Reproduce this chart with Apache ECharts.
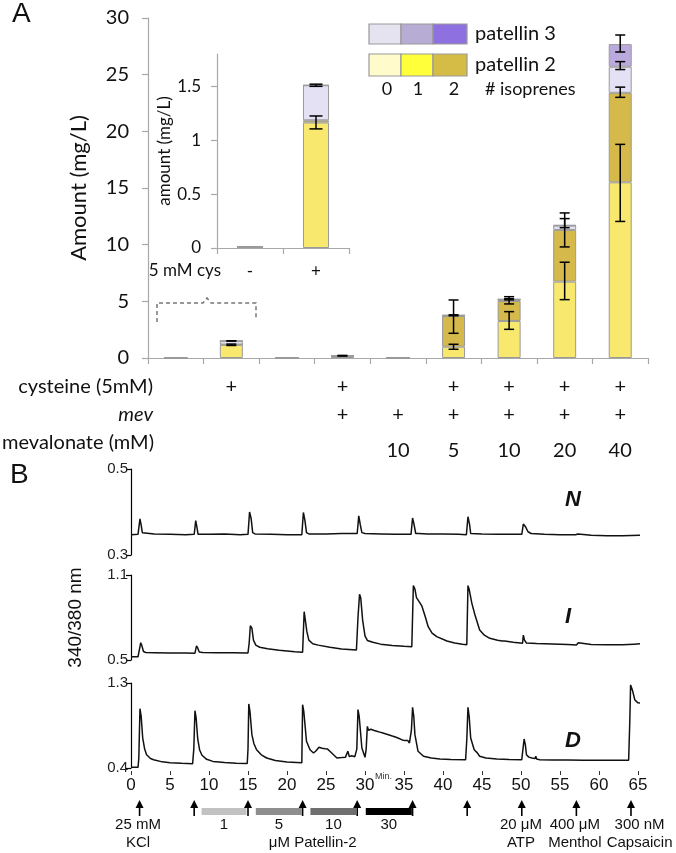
<!DOCTYPE html>
<html><head><meta charset="utf-8">
<script src="https://cdn.jsdelivr.net/npm/echarts@6.0.0/dist/echarts.min.js"></script>
<style>html,body{margin:0;padding:0;background:#fff}#c{width:676px;height:853px}</style>
</head><body><div id="c"></div>
<script>
// ---------- Panel A data ----------
const conditions = ['1','2','3','4','5','6','7','8','9'];
const cysteineRow = ['', '+', '', '+', '', '+', '+', '+', '+'];
const mevRow = ['', '', '', '+', '+', '+', '+', '+', '+'];
const mevalonateRow = ['', '', '', '', '10', '5', '10', '20', '40'];
const yTicksA = [0, 5, 10, 15, 20, 25, 30];
// stacked segments (mg/L)
const p2oneIso = [0.01, 1.165, 0.02, 0.10, 0.03, 1.00, 3.27, 6.74, 15.5];
const p2twoIso = [0, 0.02, 0, 0.05, 0, 2.70, 1.76, 4.56, 7.9];
const p3zeroIso = [0, 0.325, 0, 0.05, 0, 0.07, 0.15, 0.38, 2.3];
const p3oneIso = [0, 0, 0, 0, 0, 0, 0, 0.05, 2.0];
// error bars: [category index, mean, sd]
const errorBars = [
  [1, 1.51, 0.01], [1, 1.165, 0.06],
  [3, 0.2, 0.03],
  [5, 3.65, 1.47], [5, 0.99, 0.22], [5, 3.77, 0.04],
  [6, 5.09, 0.32], [6, 5.18, 0.05], [6, 3.31, 0.78],
  [7, 11.3, 1.5], [7, 11.9, 0.4], [7, 6.8, 1.65],
  [8, 27.75, 0.75], [8, 25.8, 0.35], [8, 23.45, 0.45], [8, 15.45, 3.4]
];
const insetCats = ['-', '+'];
const insetTicks = [0, 0.5, 1, 1.5];

// ---------- Panel B data: [minutes, 340/380 ratio] ----------
const traceN = [[0,0.347],[0.9,0.348],[1.0,0.35],[1.15,0.384],[1.3,0.37],[1.45,0.352],[1.7,0.35],[3,0.349],[5,0.348],[7,0.347],[8.1,0.348],[8.3,0.38],[8.45,0.365],[8.6,0.348],[8.8,0.346],[10,0.348],[12,0.349],[14,0.347],[15.0,0.348],[15.2,0.4],[15.4,0.385],[15.6,0.352],[15.9,0.349],[18,0.348],[20,0.347],[21.9,0.347],[22.1,0.399],[22.3,0.38],[22.5,0.352],[22.8,0.349],[25,0.349],[27,0.35],[29.0,0.35],[29.2,0.391],[29.4,0.37],[29.6,0.352],[30,0.35],[32,0.349],[34,0.348],[35.9,0.348],[36.1,0.386],[36.3,0.37],[36.5,0.35],[36.7,0.346],[36.9,0.35],[38,0.349],[40,0.349],[42,0.348],[43.0,0.347],[43.2,0.389],[43.4,0.372],[43.55,0.35],[43.7,0.346],[45,0.349],[47,0.348],[49,0.348],[50.1,0.348],[50.3,0.372],[50.6,0.365],[50.9,0.354],[51.3,0.35],[53,0.348],[55,0.347],[57,0.347],[57.3,0.349],[57.5,0.346],[59,0.346],[61,0.345],[63,0.345],[65.3,0.346]];
const traceI = [[0,0.523],[0.9,0.523],[1.0,0.53],[1.25,0.622],[1.4,0.6],[1.6,0.56],[1.9,0.553],[3,0.552],[5,0.55],[7,0.549],[8.2,0.548],[8.4,0.6],[8.55,0.585],[8.75,0.556],[9.2,0.553],[11,0.552],[13,0.551],[15.0,0.55],[15.15,0.62],[15.3,0.742],[15.5,0.725],[15.7,0.64],[16.0,0.605],[16.5,0.59],[17.5,0.58],[19,0.568],[21,0.558],[22.0,0.555],[22.2,0.841],[22.35,0.83],[22.55,0.7],[22.8,0.64],[23.3,0.615],[24,0.605],[25.5,0.59],[27,0.578],[28.9,0.57],[29.1,0.8],[29.3,0.964],[29.45,0.94],[29.7,0.78],[30.0,0.67],[30.3,0.638],[31,0.625],[32,0.612],[33.5,0.602],[35,0.597],[36.0,0.594],[36.2,1.025],[36.4,1.0],[36.6,0.94],[37,0.907],[37.3,0.88],[37.7,0.81],[38.1,0.735],[38.6,0.69],[39.2,0.665],[40.5,0.634],[41.5,0.62],[42.5,0.612],[43.05,0.608],[43.2,1.025],[43.35,1.0],[43.7,0.9],[44.1,0.818],[44.7,0.712],[45.3,0.675],[46,0.653],[47,0.64],[47.6,0.634],[47.75,0.64],[47.9,0.634],[49,0.625],[50.2,0.618],[50.3,0.676],[50.45,0.64],[50.7,0.62],[52,0.616],[54,0.613],[56,0.609],[57.1,0.606],[57.35,0.622],[57.6,0.612],[59,0.609],[61,0.607],[63,0.607],[64.5,0.612],[65.3,0.614]];
const traceD = [[0,0.407],[0.9,0.407],[1.0,0.5],[1.15,1.028],[1.3,0.95],[1.5,0.72],[1.75,0.6],[2.0,0.541],[2.5,0.5],[2.9,0.488],[4,0.465],[5,0.455],[6.5,0.449],[7.9,0.446],[8.05,0.6],[8.2,1.007],[8.35,0.93],[8.55,0.71],[8.8,0.59],[9.1,0.535],[9.7,0.492],[10.5,0.47],[12,0.457],[13.5,0.45],[14.9,0.447],[15.0,0.6],[15.1,1.078],[15.25,1.0],[15.5,0.753],[15.75,0.66],[16.1,0.594],[16.7,0.54],[17.4,0.506],[18.5,0.48],[20,0.464],[21.9,0.455],[22.0,1.07],[22.15,1.0],[22.5,0.683],[22.95,0.594],[23.4,0.559],[23.7,0.58],[24.1,0.619],[24.5,0.61],[24.7,0.616],[24.9,0.604],[25.2,0.6],[25.35,0.606],[25.5,0.577],[25.9,0.545],[26.4,0.506],[27.0,0.51],[27.5,0.515],[27.8,0.577],[28.0,0.52],[28.3,0.53],[28.7,0.52],[28.95,0.6],[29.1,1.018],[29.25,0.95],[29.6,0.612],[30.0,0.513],[30.15,0.6],[30.3,0.841],[30.45,0.8],[30.6,0.795],[30.75,0.81],[30.9,0.79],[31.1,0.8],[31.3,0.785],[31.5,0.79],[31.7,0.772],[31.9,0.78],[32.1,0.765],[32.3,0.77],[32.5,0.752],[32.7,0.76],[32.9,0.745],[33.1,0.75],[33.3,0.73],[33.5,0.738],[33.7,0.72],[33.9,0.728],[34.1,0.71],[34.3,0.715],[34.5,0.695],[34.7,0.7],[34.9,0.683],[35.1,0.69],[35.3,0.672],[35.5,0.69],[35.7,0.665],[35.95,0.8],[36.1,1.043],[36.25,0.95],[36.4,0.753],[36.8,0.577],[37.5,0.524],[38.5,0.505],[39.6,0.495],[41,0.49],[42.9,0.488],[43.05,0.7],[43.2,1.043],[43.35,0.95],[43.55,0.718],[44.0,0.594],[44.2,0.6],[44.4,0.56],[44.7,0.524],[45.5,0.505],[46.9,0.495],[48.5,0.49],[50.1,0.488],[50.25,0.6],[50.4,0.707],[50.55,0.65],[50.7,0.541],[51.0,0.515],[51.4,0.506],[51.8,0.5],[51.9,0.524],[52.0,0.495],[52.4,0.488],[54,0.485],[56,0.484],[58,0.483],[60,0.482],[62,0.482],[63.8,0.481],[63.95,0.9],[64.05,1.28],[64.3,1.22],[64.6,1.12],[65.0,1.09],[65.3,1.088]];
const arrowTimes = [1.1, 8.1, 15.0, 22.0, 29.0, 36.1, 43.1, 50.1, 57.1, 64.1];
const patellinDoses = ['1', '5', '10', '30'];
const patellinStart = [9.05, 16.0, 23.0, 30.1];
const patellinEnd = [14.8, 21.9, 28.9, 36.0];
const stimLabelTimes = [0.9, 50.0, 56.9, 65.2, 23.3];
const stimLabelTexts = ['25 mM\nKCl', '20 \u03bcM\nATP', '400 \u03bcM\nMenthol', '300 nM\nCapsaicin', '\n\u03bcM Patellin-2'];

// ---------- styles ----------
const FA = 'Lato, "Open Sans", sans-serif';
const FB = '"Liberation Sans", Arial, sans-serif';
const FBN = '"Liberation Sans Narrow", "Liberation Sans", Arial, sans-serif';
const segColors = ['#F8E96E', '#D5B94A', '#E5E1F4', '#BBAADE'];
const shades = ['#c2c2c2', '#8e8e8e', '#6f6f6f', '#000000'];
const axisGray = '#a8a8a8';

const chart = echarts.init(document.getElementById('c'), null, {renderer: 'canvas'});

function errRender(capW) {
  return function (params, api) {
    const c = api.value(0), m = api.value(1), e = api.value(2);
    const t = api.coord([c, m + e]), b = api.coord([c, m - e]);
    const st = {stroke: '#000', lineWidth: 1.5};
    return {type: 'group', children: [
      {type: 'line', shape: {x1: t[0], y1: t[1], x2: b[0], y2: b[1]}, style: st},
      {type: 'line', shape: {x1: t[0] - capW / 2, y1: t[1], x2: t[0] + capW / 2, y2: t[1]}, style: st},
      {type: 'line', shape: {x1: b[0] - capW / 2, y1: b[1], x2: b[0] + capW / 2, y2: b[1]}, style: st}
    ]};
  };
}

const segs = [p2oneIso, p2twoIso, p3zeroIso, p3oneIso];
const mainBars = segs.map((d, i) => ({
  type: 'bar', xAxisIndex: 0, yAxisIndex: 0, stack: 'main', barWidth: 23, data: d,
  itemStyle: {color: segColors[i], borderColor: '#9a9a9a', borderWidth: 1}, silent: true
}));
const insetBars = segs.map((d, i) => ({
  type: 'bar', xAxisIndex: 4, yAxisIndex: 1, stack: 'inset', barWidth: 26, data: d.slice(0, 2),
  itemStyle: {color: segColors[i], borderColor: '#9a9a9a', borderWidth: 1}, silent: true
}));

function rowAxis(data, offset, name, italic) {
  return {
    type: 'category', gridIndex: 0, data: data, position: 'bottom', offset: offset,
    axisLine: {show: false}, axisTick: {show: false}, splitLine: {show: false},
    axisLabel: {margin: 0, verticalAlign: 'middle', fontSize: 20, fontFamily: FA, color: '#111', interval: 0},
    name: name, nameLocation: 'start', nameGap: -5,
    nameTextStyle: {fontSize: 20, fontFamily: FA, color: '#111', fontStyle: italic ? 'italic' : 'normal',
      align: 'right', verticalAlign: 'middle'}
  };
}

function bYAxis(grid, min, max, name) {
  return {
    type: 'value', gridIndex: grid, min: min, max: max,
    axisLine: {show: true, lineStyle: {color: '#000', width: 1.2}},
    axisTick: {show: true, length: 5, customValues: [min, max], lineStyle: {color: '#000', width: 1.2}},
    axisLabel: {customValues: [min, max], fontSize: 15, fontFamily: FBN, color: '#222', margin: 3},
    splitLine: {show: false},
    name: name || '', nameLocation: 'middle', nameGap: 46,
    nameTextStyle: {fontSize: 19, fontFamily: FB, color: '#111'}
  };
}
function bXAxis(grid, show) {
  return {
    type: 'value', gridIndex: grid, min: 0, max: 65, interval: 5, show: show, offset: 3,
    axisLine: {show: false},
    axisTick: {show: true, length: 4, lineStyle: {color: '#333'}},
    axisLabel: {fontSize: 17, fontFamily: FB, color: '#111', margin: 6},
    splitLine: {show: false}
  };
}
const lineStyleB = {color: '#111', width: 1.5};

const option = {
  animation: false,
  backgroundColor: '#fff',
  grid: [
    {left: 148, top: 18, width: 500, height: 340},
    {left: 217, top: 54, width: 132, height: 194},
    {left: 131, top: 469, width: 507, height: 86},
    {left: 131, top: 575, width: 507, height: 85},
    {left: 131, top: 683, width: 507, height: 85}
  ],
  xAxis: [
    {type: 'category', gridIndex: 0, data: conditions,
      axisLine: {lineStyle: {color: axisGray, width: 1.2}},
      axisTick: {show: true, length: 6, lineStyle: {color: axisGray, width: 1.2}},
      axisLabel: {show: false}},
    rowAxis(cysteineRow, 29, 'cysteine (5mM)', false),
    rowAxis(mevRow, 57, 'mev', true),
    rowAxis(mevalonateRow, 93, '', false),
    {type: 'category', gridIndex: 1, data: insetCats,
      axisLine: {lineStyle: {color: axisGray, width: 1.2}},
      axisTick: {show: true, length: 6, lineStyle: {color: axisGray, width: 1.2}},
      axisLabel: {fontSize: 17, fontFamily: FA, color: '#111', margin: 15}},
    bXAxis(2, false), bXAxis(3, false), bXAxis(4, true)
  ],
  yAxis: [
    {type: 'value', gridIndex: 0, min: 0, max: 30, interval: 5,
      axisLine: {show: true, lineStyle: {color: axisGray, width: 1.2}},
      axisTick: {show: true, length: 6, lineStyle: {color: axisGray, width: 1.2}},
      axisLabel: {fontSize: 20, fontFamily: FA, color: '#111', margin: 19, customValues: yTicksA},
      splitLine: {show: false},
      name: 'Amount (mg/L)', nameLocation: 'middle', nameGap: 58,
      nameTextStyle: {fontSize: 22, fontFamily: FA, color: '#111'}},
    {type: 'value', gridIndex: 1, min: 0, max: 1.8,
      axisLine: {show: true, lineStyle: {color: axisGray, width: 1.2}},
      axisTick: {show: true, length: 6, customValues: insetTicks, lineStyle: {color: axisGray, width: 1.2}},
      axisLabel: {fontSize: 17, fontFamily: FA, color: '#111', margin: 16, customValues: insetTicks},
      splitLine: {show: false},
      name: 'amount (mg/L)', nameLocation: 'middle', nameGap: 41,
      nameTextStyle: {fontSize: 17, fontFamily: FA, color: '#111'}},
    bYAxis(2, 0.3, 0.5), bYAxis(3, 0.5, 1.1, '340/380 nm'), bYAxis(4, 0.4, 1.3)
  ],
  series: [
    ...mainBars,
    {type: 'custom', xAxisIndex: 0, yAxisIndex: 0, data: errorBars, renderItem: errRender(10), z: 5, silent: true},
    ...insetBars,
    {type: 'custom', xAxisIndex: 4, yAxisIndex: 1, data: errorBars.filter(e => e[0] < 2), renderItem: errRender(13), z: 5, silent: true},
    {type: 'line', xAxisIndex: 5, yAxisIndex: 2, data: traceN, showSymbol: false, lineStyle: lineStyleB, silent: true},
    {type: 'line', xAxisIndex: 6, yAxisIndex: 3, data: traceI, showSymbol: false, lineStyle: lineStyleB, silent: true},
    {type: 'line', xAxisIndex: 7, yAxisIndex: 4, data: traceD, showSymbol: false, lineStyle: lineStyleB, silent: true},
    // stimulus arrows
    {type: 'custom', xAxisIndex: 7, yAxisIndex: 4, data: arrowTimes.map(t => [t, 0.4]), clip: false, silent: true,
      renderItem: function (params, api) {
        const x = api.coord([api.value(0), 0.4])[0];
        const base = params.coordSys.y + params.coordSys.height;
        return {type: 'group', children: [
          {type: 'line', shape: {x1: x, y1: base + 37, x2: x, y2: base + 48}, style: {stroke: '#000', lineWidth: 1.6}},
          {type: 'polygon', shape: {points: [[x - 4, base + 40], [x, base + 32], [x + 4, base + 40]]}, style: {fill: '#000'}}
        ]};
      }},
    // patellin application bars
    {type: 'custom', xAxisIndex: 7, yAxisIndex: 4, data: patellinStart.map((s, i) => [s, patellinEnd[i]]), clip: false, silent: true,
      renderItem: function (params, api) {
        const x1 = api.coord([api.value(0), 0.4])[0];
        const x2 = api.coord([api.value(1), 0.4])[0];
        const base = params.coordSys.y + params.coordSys.height;
        return {type: 'group', children: [
          {type: 'rect', shape: {x: x1, y: base + 40, width: x2 - x1, height: 7}, style: {fill: shades[params.dataIndex]}},
          {type: 'text', style: {text: patellinDoses[params.dataIndex], x: (x1 + x2) / 2, y: base + 57, align: 'center', verticalAlign: 'middle',
            fontSize: 15, fontFamily: FB, fill: '#111'}}
        ]};
      }},
    // stimulus labels
    {type: 'custom', xAxisIndex: 7, yAxisIndex: 4, data: stimLabelTimes.map(t => [t, 0.4]), clip: false, silent: true,
      renderItem: function (params, api) {
        const x = api.coord([api.value(0), 0.4])[0];
        const base = params.coordSys.y + params.coordSys.height;
        return {type: 'text', style: {text: stimLabelTexts[params.dataIndex], x: x, y: base + 48, align: 'center', verticalAlign: 'top',
          fontSize: 15, lineHeight: 18, fontFamily: FB, fill: '#111'}};
      }}
  ],
  graphic: [
    {type: 'text', left: 12, top: 0, style: {text: 'A', fontSize: 28, fontFamily: FB, fill: '#111'}},
    {type: 'text', left: 10, top: 461, style: {text: 'B', fontSize: 28, fontFamily: FB, fill: '#111'}},
    {type: 'text', x: 154, y: 443, style: {text: 'mevalonate (mM)', align: 'right', verticalAlign: 'middle', fontSize: 20, fontFamily: FA, fill: '#111'}},
    // inset row label
    {type: 'text', x: 221, y: 271, style: {text: '5 mM cys', align: 'right', verticalAlign: 'middle', fontSize: 17, fontFamily: FA, fill: '#111'}},
    // dashed bracket linking inset to the first two bars
    {type: 'polyline', shape: {points: [[157, 322], [157, 303], [203, 303], [207, 298], [211, 303], [256, 303], [256, 320]]},
      style: {stroke: '#777', lineWidth: 1.5, lineDash: [4, 3], fill: null}},
    // legend swatches
    {type: 'rect', shape: {x: 369, y: 24, width: 32, height: 20}, style: {fill: '#E5E3EF', stroke: '#999', lineWidth: 1.2}},
    {type: 'rect', shape: {x: 401, y: 24, width: 32, height: 20}, style: {fill: '#B7ADD4', stroke: '#999', lineWidth: 1.2}},
    {type: 'rect', shape: {x: 433, y: 24, width: 34, height: 20}, style: {fill: '#8F70E0', stroke: '#999', lineWidth: 1.2}},
    {type: 'rect', shape: {x: 369, y: 54, width: 32, height: 22}, style: {fill: '#FFFBCB', stroke: '#999', lineWidth: 1.2}},
    {type: 'rect', shape: {x: 401, y: 54, width: 32, height: 22}, style: {fill: '#FFFF3A', stroke: '#999', lineWidth: 1.2}},
    {type: 'rect', shape: {x: 433, y: 54, width: 34, height: 22}, style: {fill: '#D5BC47', stroke: '#999', lineWidth: 1.2}},
    {type: 'text', x: 475, y: 34, style: {text: 'patellin 3', verticalAlign: 'middle', fontSize: 20, fontFamily: FA, fill: '#111'}},
    {type: 'text', x: 475, y: 65, style: {text: 'patellin 2', verticalAlign: 'middle', fontSize: 20, fontFamily: FA, fill: '#111'}},
    {type: 'text', x: 387, y: 89, style: {text: '0', align: 'center', verticalAlign: 'middle', fontSize: 18, fontFamily: FA, fill: '#111'}},
    {type: 'text', x: 418, y: 89, style: {text: '1', align: 'center', verticalAlign: 'middle', fontSize: 18, fontFamily: FA, fill: '#111'}},
    {type: 'text', x: 454, y: 89, style: {text: '2', align: 'center', verticalAlign: 'middle', fontSize: 18, fontFamily: FA, fill: '#111'}},
    {type: 'text', x: 485, y: 89, style: {text: '# isoprenes', verticalAlign: 'middle', fontSize: 18, fontFamily: FA, fill: '#111'}},
    // trace labels
    {type: 'text', x: 573, y: 500, style: {text: 'N', align: 'center', verticalAlign: 'middle', fontSize: 22, fontWeight: 'bold', fontStyle: 'italic', fontFamily: FB, fill: '#111'}},
    {type: 'text', x: 568, y: 617, style: {text: 'I', align: 'center', verticalAlign: 'middle', fontSize: 22, fontWeight: 'bold', fontStyle: 'italic', fontFamily: FB, fill: '#111'}},
    {type: 'text', x: 573, y: 741, style: {text: 'D', align: 'center', verticalAlign: 'middle', fontSize: 22, fontWeight: 'bold', fontStyle: 'italic', fontFamily: FB, fill: '#111'}},
    {type: 'text', x: 375, y: 777, style: {text: 'Min.', verticalAlign: 'middle', fontSize: 9, fontFamily: FBN, fill: '#333'}}
  ]
};
chart.setOption(option);
</script></body></html>
